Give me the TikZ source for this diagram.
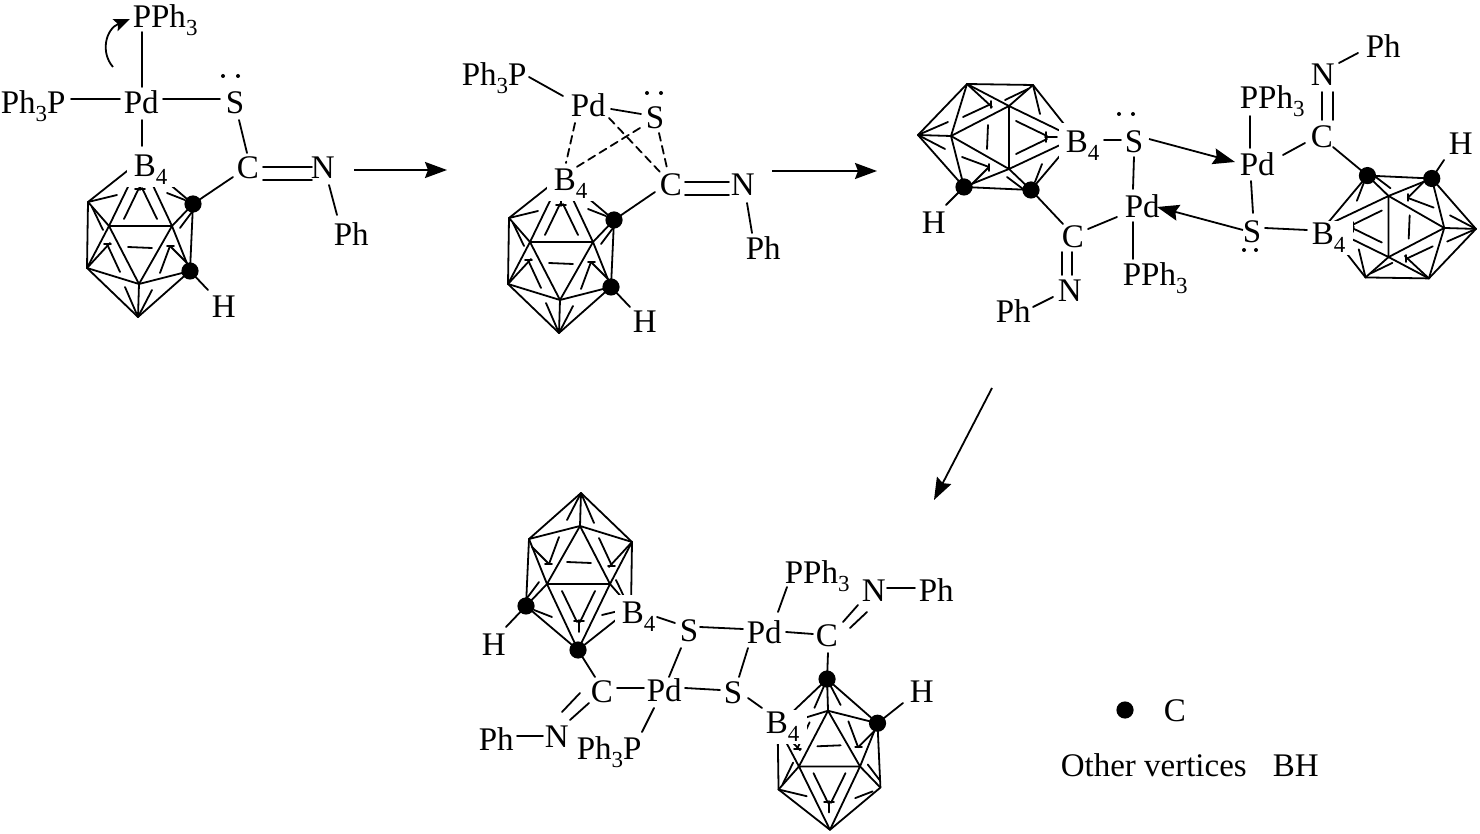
\documentclass[tikz,border=0pt]{standalone}
\usepackage{fontspec}
\setmainfont{Liberation Serif}
\usetikzlibrary{arrows.meta}
\newcommand\sbs[1]{\raisebox{-4pt}{\fontsize{11.5}{12}\selectfont #1}}
\tikzset{
  atom/.style={font=\fontsize{16.5}{18}\selectfont, inner sep=0pt, anchor=base west},
  bmask/.style={atom, fill=white, inner xsep=4pt, inner ysep=1pt},
  cdot/.style={circle, fill=black, draw=none, inner sep=0pt, minimum size=8.6pt},
  bond/.style={line width=0.9pt, line cap=round},
  dbond/.style={bond, dash pattern=on 4pt off 2.6pt},
  cagel/.style={line width=0.9pt, line cap=round, line join=round},
  rxn/.style={line width=0.9pt, -{Stealth[length=11pt,width=8pt,inset=1.5pt]}},
  give/.style={line width=0.9pt, -{Stealth[length=11pt,width=8pt,inset=1.5pt]}},
  curly/.style={line width=0.9pt, -{Stealth[length=8pt,width=6.5pt,inset=1.5pt]}},
}
% bond between two labels: name, offset x, y, name, offset x, y
\newcommand\bd[7][bond]{\draw[#1] ([shift={(#3,#4)}]#2.base west) -- ([shift={(#6,#7)}]#5.base west);}
% bond from a label to a carbon dot
\newcommand\bc[5][bond]{\draw[#1] ([shift={(#3,#4)}]#2.base west) -- (#5.center);}
\newcommand\adj[1]{\raisebox{-0.5pt}{\kern-0.8pt #1}}
\newcommand\lbl[4]{\node[atom] (#1) at (#2,#3) {\adj{#4}};}
\newcommand\pr[3]{\fill (#1,#3) circle[radius=2]; \fill (#2,#3) circle[radius=2];}
\newcommand\cv[3]{\coordinate (\cg#1) at ({\cx+\ca*(#2-140)+\cc*(#3-240)},{\cy+\cb*(#2-140)+\cd*(#3-240)});}
\newcommand\sg[4]{\draw[cagel] ({\cx+\ca*(#1-140)+\cc*(#2-240)},{\cy+\cb*(#1-140)+\cd*(#2-240)}) -- ({\cx+\ca*(#3-140)+\cc*(#4-240)},{\cy+\cb*(#3-140)+\cd*(#4-240)});}
\newcommand\cage[7]{%
  \def\cg{#1}\def\cx{#2}\def\cy{#3}\def\ca{#4}\def\cb{#5}\def\cc{#6}\def\cd{#7}%
  \cv{T}{141}{160}\cv{UL}{88}{202}\cv{UR}{193}{204}\cv{ML}{109}{226}\cv{MR}{172}{226}%
  \cv{LL}{87}{268}\cv{LR}{190}{271}\cv{BC}{139}{284}\cv{B}{138}{317}%
  \draw[cagel] (\cg T) -- (\cg UL) -- (\cg LL) -- (\cg B) -- (\cg LR) -- (\cg UR) -- cycle;
  \draw[cagel] (\cg T) -- (\cg ML) -- (\cg MR) -- cycle;
  \draw[cagel] (\cg UL) -- (\cg ML) -- (\cg LL) -- (\cg BC) -- (\cg LR) -- (\cg MR) -- (\cg UR);
  \draw[cagel] (\cg ML) -- (\cg BC) -- (\cg MR);
  \draw[cagel] (\cg BC) -- (\cg B);
  \sg{140}{178}{140}{190}\sg{139}{188}{124}{219}\sg{142}{188}{157}{219}\sg{135}{189}{145}{189}%
  \sg{88}{202}{117}{195}\sg{185}{200}{167}{193}\sg{92}{207}{103}{230}\sg{192}{212}{180}{228}%
  \sg{128}{247}{152}{248}\sg{87}{268}{110}{243}\sg{107}{244}{120}{272}\sg{170}{246}{160}{273}%
  \sg{170}{246}{187}{263}\sg{104}{244}{111}{244}\sg{167}{246}{174}{246}%
  \sg{138}{317}{125}{287}\sg{138}{317}{152}{290}%
}
\begin{document}
\begin{tikzpicture}[x=0.5pt,y=-0.5pt]
\useasboundingbox (0,0) rectangle (1480,834);
% ---------- cages
\cage{ga}{140}{240}{1}{0}{0}{1}
\cage{gb}{561}{256}{1}{0}{0}{1}
\cage{gc}{995}{137}{0}{1}{-1}{0}
\cage{gd}{1402}{227}{0}{-0.97}{0.96}{0}
\cage{ge}{579}{570}{-1}{0}{0}{-1}
\cage{gf}{829}{753}{0.97}{0}{0}{-0.96}
% ---------- carbon dots
\node[cdot] (da1) at (gaUR) {};
\node[cdot] (da2) at (gaLR) {};
\node[cdot] (db1) at (gbUR) {};
\node[cdot] (db2) at (gbLR) {};
\node[cdot] (dc1) at (gcUR) {};
\node[cdot] (dc2) at (gcLR) {};
\node[cdot] (dd1) at (gdUR) {};
\node[cdot] (dd2) at (gdLR) {};
\node[cdot] (de1) at (geT) {};
\node[cdot] (de2) at (geUR) {};
\node[cdot] (df1) at (gfB) {};
\node[cdot] (df2) at (gfLR) {};
\node[cdot] (legdot) at (1125,710) {};
% ---------- structure 1
\lbl{pph1}{134}{27}{PPh\sbs{3}}
\lbl{pd1}{125}{113}{Pd}
\lbl{tp1}{2}{113}{Ph\sbs{3}P}
\lbl{s1}{227}{113}{S}
\node[bmask] (b1) at (127,176) {\adj{B\sbs{4}}};
\lbl{c1}{238}{178}{C}
\lbl{n1}{312}{178}{N}
\lbl{ph1}{335}{245}{Ph}
\lbl{h1}{213}{317}{H}
\pr{223}{238}{76}
\bd{pd1}{17}{-26}{pph1}{8}{5}
\bd{tp1}{69}{-14}{pd1}{-5}{-14}
\bd{pd1}{38}{-14}{s1}{-7}{-14}
\bd{pd1}{17}{7}{b1}{15}{-30}
\bd{s1}{12}{7}{c1}{9}{-25}
\bd{c1}{25}{-11}{n1}{0}{-11}
\bd{c1}{25}{2}{n1}{0}{2}
\bd{n1}{17}{7}{ph1}{2}{-30}
\bc{c1}{-5}{-1}{da1}
\bc{h1}{-5}{-27}{da2}
\coordinate (cua) at (113,67);
\coordinate (cub) at (130,19);
\draw[curly] (cua) .. controls (100,52) and (106,29) .. (cub);
% ---------- structure 2
\lbl{tp2}{463}{85}{Ph\sbs{3}P}
\lbl{pd2}{572}{116}{Pd}
\lbl{s2}{647}{128}{S}
\node[bmask] (b2) at (547,190) {\adj{B\sbs{4}}};
\lbl{c2}{661}{195}{C}
\lbl{n2}{732}{195}{N}
\lbl{ph2}{747}{259}{Ph}
\lbl{h2}{634}{332}{H}
\pr{647}{661}{93}
\bd{tp2}{66}{-8}{pd2}{-9}{-20}
\bd{pd2}{39}{-7}{s2}{-6}{-14}
\bd[dbond]{pd2}{3}{7}{b2}{19}{-27}
\bd[dbond]{s2}{-7}{0}{b2}{28}{-22}
\bd[dbond]{pd2}{37}{2}{c2}{-1}{-23}
\bd[dbond]{s2}{12}{5}{c2}{6}{-27}
\bd{c2}{24}{-13}{n2}{-3}{-13}
\bd{c2}{24}{0}{n2}{-3}{0}
\bd{n2}{15}{8}{ph2}{5}{-26}
\bc{c2}{-6}{-3}{db1}
\bc{h2}{-4}{-25}{db2}
% ---------- structure 3, left half
\lbl{h3}{923}{233}{H}
\node[bmask,inner ysep=4pt] (b3) at (1059,152) {\adj{B\sbs{4}}};
\lbl{s3}{1126}{152}{S}
\lbl{pd3}{1126}{217}{Pd}
\lbl{c3}{1063}{247}{C}
\lbl{n3}{1059}{301}{N}
\lbl{ph3}{997}{322}{Ph}
\lbl{pp3}{1124}{285}{PPh\sbs{3}}
\pr{1119}{1133}{114}
\bd{b3}{45}{-12}{s3}{-5}{-12}
\bd{s3}{8}{5}{pd3}{7}{-28}
\bd{pd3}{7}{5}{pp3}{9}{-26}
\bd{pd3}{-9}{0}{c3}{25}{-18}
\bd{c3}{-1}{5}{n3}{3}{-26}
\bd{c3}{9}{5}{n3}{13}{-26}
\bd{n3}{-6}{-4}{ph3}{36}{-15}
\bc{c3}{0}{-23}{dc1}
\bc{h3}{23}{-28}{dc2}
% ---------- structure 3, right half
\lbl{ph4}{1367}{57}{Ph}
\lbl{n4}{1312}{85}{N}
\lbl{pp4}{1241}{108}{PPh\sbs{3}}
\lbl{c4}{1312}{147}{C}
\lbl{h4}{1450}{154}{H}
\lbl{pd4}{1241}{175}{Pd}
\lbl{s4}{1244}{242}{S}
\node[bmask] (b4) at (1305,244) {\adj{B\sbs{4}}};
\pr{1244}{1256}{250}
\bd{ph4}{-9}{-4}{n4}{27}{-22}
\bd{n4}{10}{7}{c4}{10}{-27}
\bd{n4}{21}{7}{c4}{21}{-27}
\bd{pp4}{9}{8}{pd4}{9}{-27}
\bd{pd4}{42}{-20}{c4}{-7}{-4}
\bc{c4}{21}{0}{dd1}
\bd{pd4}{10}{6}{s4}{9}{-29}
\bd{s4}{21}{-14}{b4}{2}{-14}
\bc{h4}{-6}{6}{dd2}
\bd[give]{s3}{23}{-13}{pd4}{-6}{-13}
\bd[give]{s4}{-1}{-12}{pd3}{31}{-10}
% ---------- structure 4
\lbl{h5}{483}{654}{H}
\node[bmask,inner ysep=3.5pt] (b5) at (615,623) {\adj{B\sbs{4}}};
\lbl{s5}{681}{640}{S}
\lbl{pd5}{748}{643}{Pd}
\lbl{pp5}{786}{582}{PPh\sbs{3}}
\lbl{n5}{863}{601}{N}
\lbl{ph5}{920}{601}{Ph}
\lbl{c5}{817}{646}{C}
\lbl{c6}{592}{701}{C}
\lbl{pd6}{648}{700}{Pd}
\lbl{s6}{725}{703}{S}
\node[bmask] (b6) at (759,733) {\adj{B\sbs{4}}};
\lbl{ph6}{480}{749}{Ph}
\lbl{n6}{546}{747}{N}
\lbl{tp6}{578}{758}{Ph\sbs{3}P}
\lbl{h6}{911}{702}{H}
\bc{h5}{23}{-27}{de2}
\bd{b5}{42}{-6}{s5}{-6}{-17}
\bd{s5}{19}{-13}{pd5}{-5}{-14}
\bd{pd5}{30}{-31}{pp5}{1}{5}
\bd{pd5}{38}{-11}{c5}{-4}{-12}
\bd{c5}{26}{-24}{n5}{-5}{4}
\bd{c5}{33}{-18}{n5}{4}{11}
\bd{n5}{24}{-13}{ph5}{-5}{-13}
\bc{c5}{11}{7}{df1}
\bc{h6}{-8}{1}{df2}
\bd{s5}{0}{8}{pd6}{21}{-23}
\bd{pd5}{0}{5}{s6}{14}{-26}
\bd{pd6}{37}{-12}{s6}{-5}{-13}
\bd{s6}{23}{-5}{b6}{3}{-25}
\bd{c6}{25}{-13}{pd6}{-4}{-12}
\bc{c6}{3}{-24}{de1}
\bd{c6}{-12}{-8}{n6}{16}{-35}
\bd{c6}{-3}{2}{n6}{24}{-27}
\bd{ph6}{37}{-13}{n6}{-3}{-11}
\bd{pd6}{6}{8}{tp6}{64}{-26}
% ---------- reaction arrows
\coordinate (ra1) at (354,170);
\coordinate (ra2) at (447,170);
\coordinate (rb1) at (772,171);
\coordinate (rb2) at (877,171);
\coordinate (rc1) at (992,388);
\coordinate (rc2) at (934,500);
\draw[rxn] (ra1) -- (ra2);
\draw[rxn] (rb1) -- (rb2);
\draw[rxn] (rc1) -- (rc2);
% ---------- legend
\lbl{legc}{1165}{720}{C}
\lbl{legov}{1062}{776}{Other vertices}
\lbl{legbh}{1274}{776}{BH}
\end{tikzpicture}
\end{document}
